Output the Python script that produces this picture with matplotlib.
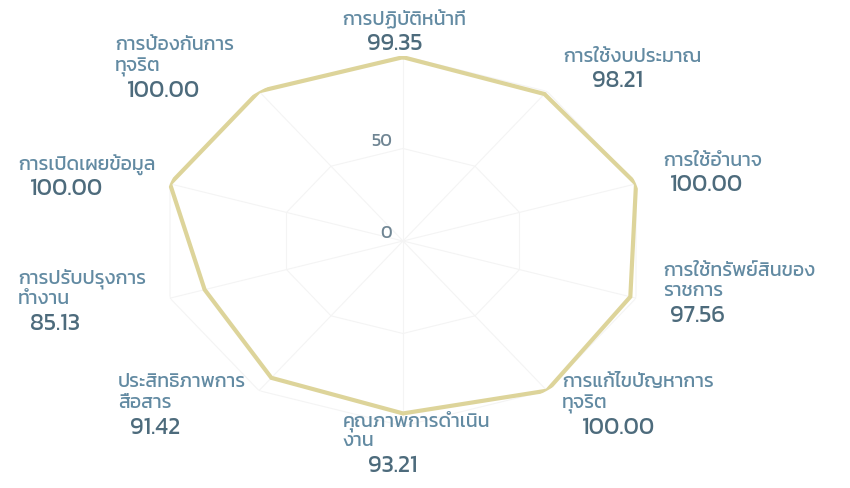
import numpy as np
import matplotlib
matplotlib.use('Agg')
import matplotlib.pyplot as plt
from matplotlib import font_manager
from matplotlib.ft2font import FT2Font

# Data: ten axes, clockwise from the top
categories = [
    ['การปฏิบัติหน้าที่'],
    ['การใช้งบประมาณ'],
    ['การใช้อำนาจ'],
    ['การใช้ทรัพย์สินของ', 'ราชการ'],
    ['การแก้ไขปัญหาการ', 'ทุจริต'],
    ['คุณภาพการดำเนิน', 'งาน'],
    ['ประสิทธิภาพการ', 'สื่อสาร'],
    ['การปรับปรุงการ', 'ทำงาน'],
    ['การเปิดเผยข้อมูล'],
    ['การป้องกันการ', 'ทุจริต'],
]
scores = [99.35, 98.21, 100.00, 97.56, 100.00, 93.21, 91.42, 85.13, 100.00, 100.00]
radial_ticks = [0, 50]

# Label layout (pixel positions in the 850x489 picture): left x of text lines, first line y, left x of value
label_x = [342, 563, 663, 663, 562, 343, 118, 18, 18, 115]
label_y = [20, 57, 161, 271, 383, 421, 383, 279, 165, 46]
value_x = [367, 592, 670, 670, 582, 368, 130, 30, 30, 127]

# Pick a font that can draw Thai (Kanit looks closest)
thai_fonts = []
for f in font_manager.fontManager.ttflist:
    try:
        if 0x0E01 in FT2Font(f.fname).get_charmap():
            thai_fonts.append(f.name)
    except Exception:
        pass
thai_fonts = sorted(set(thai_fonts))
preferred = ['Kanit', 'Prompt', 'Mitr', 'Anuphan', 'Bai Jamjuree']
pick = [p for p in preferred if p in thai_fonts] or thai_fonts[:1]
plt.rcParams['font.family'] = pick[:1] + ['DejaVu Sans']

W, H = 850, 489
fig = plt.figure(figsize=(W / 100, H / 100), dpi=100)
fig.patch.set_facecolor('white')

# Axes placed so the centre sits at (403, 242) px; stretched sideways like the photo
cx, cy, rx, ry = 403, 242, 245, 185
ax = fig.add_axes([(cx - rx) / W, (H - cy - ry) / H, 2 * rx / W, 2 * ry / H], projection='polar')
ax.set_aspect('auto')
ax.set_theta_offset(np.pi / 2)
ax.set_theta_direction(-1)
ax.set_ylim(0, 100)
ax.spines['polar'].set_visible(False)
ax.grid(False)
ax.set_xticks([])
ax.set_yticks([])
ax.patch.set_alpha(0)

n = len(scores)
angles = np.linspace(0, 2 * np.pi, n, endpoint=False)
angles_closed = np.concatenate([angles, angles[:1]])

# faint polygon grid and spokes
for r in [50, 100]:
    ax.plot(angles_closed, [r] * (n + 1), color='#f4f4f4', lw=0.8, zorder=1)
for a in angles:
    ax.plot([a, a], [0, 100], color='#f4f4f4', lw=0.8, zorder=1)

values_closed = scores + scores[:1]
ax.plot(angles_closed, values_closed, color='#ddd49a', lw=3, solid_joinstyle='miter', zorder=3)

for t in radial_ticks:
    ax.annotate(str(t), xy=(0, t), xytext=(-8, 6), textcoords='offset points',
                ha='right', va='center', fontsize=13, color='#6f8593')

label_color = '#628aa2'
value_color = '#4d6b7c'
line_step = 21
for i, lines in enumerate(categories):
    y = label_y[i]
    for line in lines:
        fig.text(label_x[i] / W, 1 - y / H, line, ha='left', va='center',
                 fontsize=14, color=label_color)
        y += line_step
    fig.text(value_x[i] / W, 1 - (y + 3) / H, f'{scores[i]:.2f}', ha='left', va='center',
             fontsize=17, color=value_color)

fig.savefig('out.png', dpi=100, facecolor='white')
